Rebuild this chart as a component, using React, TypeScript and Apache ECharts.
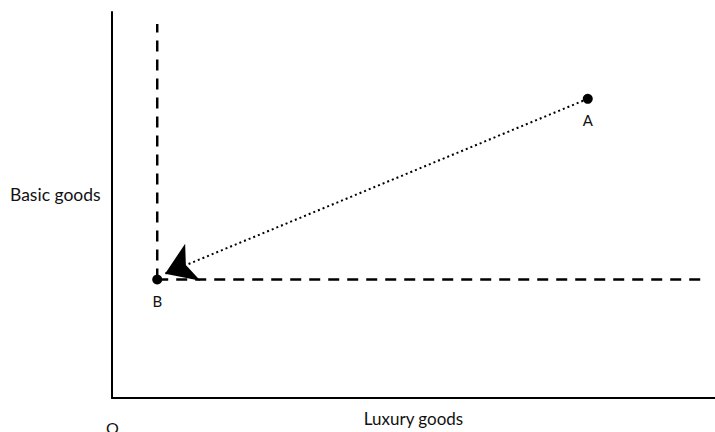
import React, { useEffect, useRef } from "react";
import * as echarts from "echarts";

// Data (arbitrary 0-100 units on both axes)
const pointNames = ["A", "B"];
const pointX = [78.9, 7.5];
const pointY = [77.5, 30.7];
// dashed guide lines through B
const verticalGuideX = [7.5, 7.5];
const verticalGuideY = [30.7, 96.9];
const horizontalGuideX = [7.5, 98.3];
const horizontalGuideY = [30.7, 30.7];
// movement arrow from A to (just beside) B
const arrowFrom = [78.9, 77.5];
const arrowTo = [8.8, 32.2];
const xAxisName = "Luxury goods";
const yAxisName = "Basic goods";
const originLabel = "O";

const FONT = "Lato, 'Open Sans', sans-serif";

export default function App() {
  const ref = useRef<HTMLDivElement>(null);
  useEffect(() => {
    if (!ref.current) return;
    const chart = echarts.init(ref.current, null, { renderer: "svg" });
    const dash = [11, 8];
    chart.setOption({
      animation: false,
      backgroundColor: "#fff",
      textStyle: { fontFamily: FONT },
      grid: { left: 112, right: 0, top: 12, bottom: 29, containLabel: false },
      xAxis: {
        type: "value",
        min: 0,
        max: 100,
        name: xAxisName,
        nameLocation: "middle",
        nameGap: 12,
        nameTextStyle: { fontSize: 17, color: "#111", fontFamily: FONT, verticalAlign: "top" },
        axisLine: { show: true, lineStyle: { color: "#000", width: 2 } },
        axisTick: { show: false },
        axisLabel: { show: false },
        splitLine: { show: false },
      },
      yAxis: {
        type: "value",
        min: 0,
        max: 100,
        axisLine: { show: true, lineStyle: { color: "#000", width: 2 } },
        axisTick: { show: false },
        axisLabel: { show: false },
        splitLine: { show: false },
      },
      graphic: [
        {
          type: "text",
          left: 10,
          top: 185,
          style: { text: yAxisName, fontSize: 17.5, fill: "#111", fontFamily: FONT },
        },
        {
          type: "text",
          left: 106,
          top: 419,
          style: { text: originLabel, fontSize: 16, fill: "#111", fontFamily: FONT },
        },
      ],
      series: [
        {
          type: "line",
          data: verticalGuideX.map((x, i) => [x, verticalGuideY[i]]),
          symbol: "none",
          lineStyle: { color: "#000", width: 2.5, type: dash },
          silent: true,
        },
        {
          type: "line",
          data: horizontalGuideX.map((x, i) => [x, horizontalGuideY[i]]),
          symbol: "none",
          lineStyle: { color: "#000", width: 2.5, type: dash },
          silent: true,
        },
        {
          type: "lines",
          coordinateSystem: "cartesian2d",
          symbol: ["none", "arrow"],
          symbolSize: [18, 30],
          lineStyle: { color: "#000", width: 2, type: [2, 3], opacity: 1 },
          data: [{ coords: [arrowFrom, arrowTo] }],
          silent: true,
        },
        {
          type: "scatter",
          symbol: "circle",
          symbolSize: 10,
          itemStyle: { color: "#000", opacity: 1 },
          data: pointNames.map((n, i) => ({ name: n, value: [pointX[i], pointY[i]] })),
          label: {
            show: true,
            position: "bottom",
            distance: 9,
            formatter: (p: any) => p.name,
            fontSize: 15,
            color: "#111",
            fontFamily: FONT,
          },
        },
      ],
    });
    return () => chart.dispose();
  }, []);
  return (
    <div
      ref={ref}
      style={{ position: "fixed", left: 0, top: 0, width: 715, height: 432 }}
    />
  );
}
